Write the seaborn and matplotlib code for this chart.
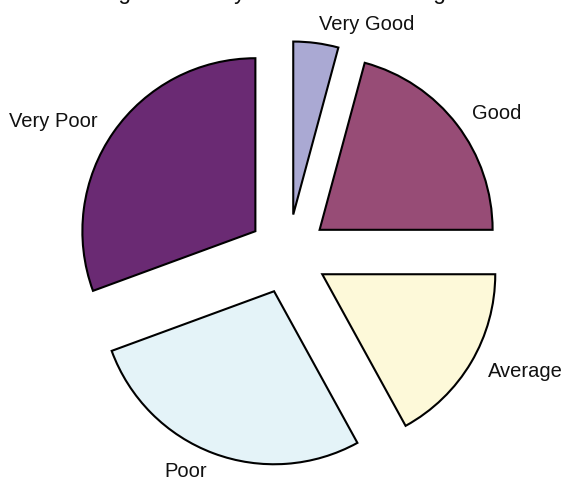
import matplotlib
matplotlib.use("Agg")
import matplotlib.pyplot as plt
import seaborn as sns

# Share of responses per rating (percent)
ratings = ["Very Good", "Good", "Average", "Poor", "Very Poor"]
shares = [4.2, 20.8, 17.0, 27.4, 30.6]
colors = ["#aaa9d3", "#974c76", "#fdf9d9", "#e4f3f8", "#6a2a73"]

sns.set_theme(style="white")
plt.rcParams["font.family"] = ["Liberation Sans", "DejaVu Sans"]

fig = plt.figure(figsize=(5.66, 4.87), dpi=100)
ax = fig.add_axes([0.1268, 0.0344, 0.7641, 0.8881])

ax.pie(
    shares,
    labels=ratings,
    colors=colors,
    startangle=90,
    counterclock=False,
    explode=[0.23] * len(shares),
    labeldistance=1.11,
    wedgeprops=dict(edgecolor="black", linewidth=1.5),
    textprops=dict(fontsize=14.5, color="#111111"),
)
ax.set_aspect("equal")

fig.text(0.48, 1.002, "Digital Literacy Assessment Rating",
         ha="center", va="baseline", fontsize=16.3, color="#111111")

fig.savefig("out.png", dpi=100)
